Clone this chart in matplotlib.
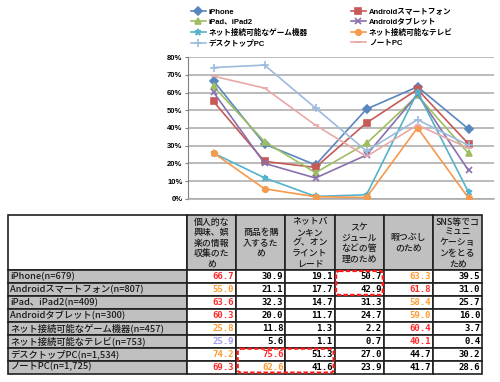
import matplotlib
matplotlib.use("Agg")
import matplotlib.pyplot as plt
from matplotlib.patches import Rectangle, FancyBboxPatch

plt.rcParams['font.family'] = ['Liberation Sans', 'Noto Sans CJK JP']

# ---- data ----
purposes = ['個人的な\n興味、娯\n楽の情報\n収集のた\nめ',
            '商品を購\n入するた\nめ',
            'ネットバ\nンキン\nグ、オン\nライント\nレード',
            'スケ\nジュール\nなどの管\n理のため',
            '暇つぶし\nのため',
            'SNS等でコ\nミュニ\nケーショ\nンをとる\nため']
devices = ['iPhone', 'Androidスマートフォン', 'iPad、iPad2', 'Androidタブレット',
           'ネット接続可能なゲーム機器', 'ネット接続可能なテレビ', 'デスクトップPC', 'ノートPC']
sample_n = ['679', '807', '409', '300', '457', '753', '1,534', '1,725']

iphone = [66.7, 30.9, 19.1, 50.7, 63.3, 39.5]
android_sp = [55.0, 21.1, 17.7, 42.9, 61.8, 31.0]
ipad = [63.6, 32.3, 14.7, 31.3, 58.4, 25.7]
android_tab = [60.3, 20.0, 11.7, 24.7, 59.0, 16.0]
game = [25.8, 11.8, 1.3, 2.2, 60.4, 3.7]
tv = [25.9, 5.6, 1.1, 0.7, 40.1, 0.4]
desktop = [74.2, 75.6, 51.3, 27.0, 44.7, 30.2]
notepc = [69.3, 62.6, 41.6, 23.9, 41.7, 28.6]
values = [iphone, android_sp, ipad, android_tab, game, tv, desktop, notepc]

# highlight of table numbers: r = red, o = orange, p = lavender
highlight = ['r...o.', 'o...r.', 'r...o.', 'r...o.', 'o...r.', 'p...r.', 'or....', 'ro....']
# cells circled with red dashed boxes: (first row, last row, first col, last col)
boxes = [(0, 1, 3, 3), (6, 7, 1, 2)]

# ---- styles ----
colors = ['#5A86BE', '#C65A57', '#9DBE62', '#8A70AC', '#55B2CA', '#F59A4E', '#9DBBDD', '#E8A9A8']
markers = ['D', 's', '^', 'x', '*', 'o', '+', '_']
msizes = [4, 4, 4.5, 4.5, 5, 4, 6, 5]
num_colors = {'r': '#FF2A2A', 'o': '#FF9A2E', 'p': '#A09AF2', '.': 'black'}

W, H = 500, 382
fig = plt.figure(figsize=(W / 100, H / 100), dpi=100)

# ---- line chart ----
ax = fig.add_axes([188 / W, 1 - 198.7 / H, 306 / W, 141.4 / H])
x = list(range(len(purposes)))
handles = []
for vals, dev, c, m, ms in zip(values, devices, colors, markers, msizes):
    h, = ax.plot(x, [v / 100 for v in vals], color=c, lw=1.2, marker=m, ms=ms,
                 mfc=c, mec=c, mew=1.2, label=dev, zorder=3)
    handles.append(h)
ax.set_xlim(-0.5, len(purposes) - 0.5)
ax.set_ylim(0, 0.8)
ax.set_yticks([i / 10 for i in range(9)])
ax.set_yticklabels([f'{i * 10}%' for i in range(9)], fontsize=5.5, fontweight='bold')
ax.set_xticks([])
ax.yaxis.grid(True, color='#A8A8A8', lw=1.1)
ax.set_axisbelow(True)
for s in ['top', 'right']:
    ax.spines[s].set_visible(False)
ax.spines['left'].set_color('#808080')
ax.spines['bottom'].set_color('#A8A8A8')
ax.spines['bottom'].set_linewidth(1.1)
ax.tick_params(axis='y', length=2, width=0.8, color='#808080', pad=2)

order = [0, 2, 4, 6, 1, 3, 5, 7]
fig.legend([handles[i] for i in order], [devices[i] for i in order], ncol=2,
           loc='upper left', bbox_to_anchor=(191 / W, 1 - 8.5 / H), frameon=False,
           prop={'size': 5.5, 'weight': 'bold'}, handlelength=1.9, handletextpad=0.4,
           labelspacing=0.36, columnspacing=5.7, borderaxespad=0, borderpad=0)

# ---- table ----
tx = fig.add_axes([0, 0, 1, 1])
tx.set_xlim(0, W)
tx.set_ylim(H, 0)
tx.axis('off')

left, label_w, col_w = 8, 179, 49.2
top, head_h, row_h = 215, 55, 12.95
col_x = [left, left + label_w] + [left + label_w + col_w * (i + 1) for i in range(len(purposes))]
row_y = [top, top + head_h] + [top + head_h + row_h * (i + 1) for i in range(len(devices))]
grey = '#C0C0C0'

def cell(x0, x1, y0, y1, fc):
    r = Rectangle((x0, y0), x1 - x0, y1 - y0, fc=fc, ec='#202020', lw=1.2, zorder=1)
    tx.add_patch(r)
    return r

cell(col_x[0], col_x[1], row_y[0], row_y[1], 'white')
for j, p in enumerate(purposes):
    r = cell(col_x[j + 1], col_x[j + 2], row_y[0], row_y[1], grey)
    t = tx.text((col_x[j + 1] + col_x[j + 2]) / 2, (row_y[0] + row_y[1]) / 2 + 0.5, p,
                ha='center', va='center', fontsize=6.4, linespacing=1.2,
                family='Noto Sans CJK JP', fontweight='medium', color='#1A1A1A', zorder=2)
    t.set_clip_path(r)

for i, (dev, n) in enumerate(zip(devices, sample_n)):
    y0, y1 = row_y[i + 1], row_y[i + 2]
    cell(col_x[0], col_x[1], y0, y1, grey)
    tx.text(col_x[0] + 2.5, (y0 + y1) / 2, f'{dev}(n={n})', ha='left', va='center',
            fontsize=6.7, family='Noto Sans CJK JP', fontweight='medium', color='#1A1A1A', zorder=2)
    for j, v in enumerate(values[i]):
        cell(col_x[j + 1], col_x[j + 2], y0, y1, 'white')
        tx.text(col_x[j + 2] - 2, (y0 + y1) / 2, f'{v:.1f}', ha='right', va='center',
                fontsize=6.5, family='DejaVu Sans Mono', fontweight='bold',
                color=num_colors[highlight[i][j]], zorder=2)

for r0, r1, c0, c1 in boxes:
    x0, x1 = col_x[c0 + 1] + 1.5, col_x[c1 + 2] - 1
    y0, y1 = row_y[r0 + 1] + 1, row_y[r1 + 2] - 1
    tx.add_patch(FancyBboxPatch((x0, y0), x1 - x0, y1 - y0,
                                boxstyle='round,pad=0,rounding_size=3', fc='none',
                                ec='#FF1A1A', lw=1.6, ls=(0, (2, 1)), zorder=4))

fig.savefig('out.png', dpi=100)
